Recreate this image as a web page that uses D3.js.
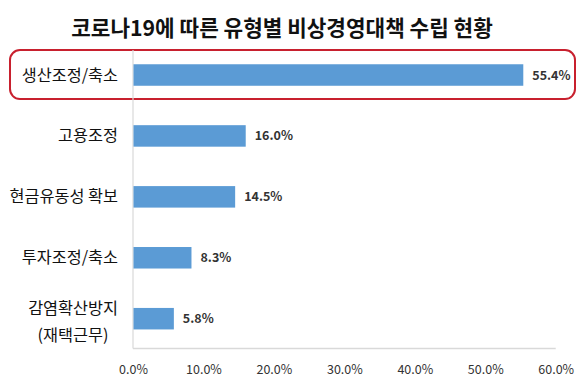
<!DOCTYPE html>
<html><head><meta charset="utf-8">
<script src="https://cdn.jsdelivr.net/npm/d3@7"></script>
<style>body{margin:0;background:#fff}svg{display:block}</style>
</head><body>
<svg id="c" width="580" height="380"></svg>
<script>
const title = "코로나19에 따른 유형별 비상경영대책 수립 현황";
const categories = ["생산조정/축소", "고용조정", "현금유동성 확보", "투자조정/축소", "감염확산방지\n(재택근무)"];
const values = [55.4, 16.0, 14.5, 8.3, 5.8];
const tickValues = [0, 10, 20, 30, 40, 50, 60];
const highlighted = ["생산조정/축소"];

const svg = d3.select("#c");
const font = "'Noto Sans CJK KR','Malgun Gothic',sans-serif";
const x = d3.scaleLinear().domain([0, 60]).range([133, 555.7]);
const y = d3.scaleBand().domain(categories).range([33.8, 359.9]).paddingInner(0.647).paddingOuter(0.5);

svg.append("text").attr("x", 282).attr("y", 35.5).attr("text-anchor", "middle")
  .attr("font-family", font).attr("font-weight", "bold").attr("font-size", 21.3).attr("fill", "#111")
  .text(title);

// highlight box
highlighted.forEach(c => {
  const cy = y(c) + y.bandwidth() / 2;
  svg.append("rect").attr("x", 10).attr("y", cy - 25).attr("width", 565).attr("height", 49)
    .attr("rx", 10).attr("fill", "none").attr("stroke", "#c8202e").attr("stroke-width", 2);
});

// axes lines
svg.append("line").attr("x1", x(0)).attr("x2", x(0)).attr("y1", 50).attr("y2", 348.5)
  .attr("stroke", "#d9d9d9").attr("stroke-width", 1.2);
svg.append("line").attr("x1", x(0)).attr("x2", x(60)).attr("y1", 348.5).attr("y2", 348.5)
  .attr("stroke", "#d9d9d9").attr("stroke-width", 1.5);

const xAxis = d3.axisBottom(x).tickValues(tickValues).tickSize(0).tickPadding(0)
  .tickFormat(d => d.toFixed(1) + "%");
const gx = svg.append("g").attr("transform", "translate(0,349)").call(xAxis);
gx.select(".domain").remove();
gx.selectAll("text").attr("font-family", font).attr("font-size", 12.5).attr("fill", "#333").attr("dy", 25);

svg.selectAll("rect.bar").data(values).enter().append("rect").attr("class", "bar")
  .attr("x", x(0) + 0.5).attr("y", (d, i) => y(categories[i]))
  .attr("width", d => x(d) - x(0) - 0.5).attr("height", y.bandwidth()).attr("fill", "#5b9bd5");

svg.selectAll("text.val").data(values).enter().append("text").attr("class", "val")
  .attr("x", d => x(d) + 9).attr("y", (d, i) => y(categories[i]) + y.bandwidth() / 2 + 4.5)
  .attr("font-family", font).attr("font-weight", "bold").attr("font-size", 12.5).attr("fill", "#333")
  .text(d => d.toFixed(1) + "%");

const rightEdge = 118;
categories.forEach(c => {
  const lines = c.split("\n");
  const cy = y(c) + y.bandwidth() / 2;
  const lh = 27;
  const t = svg.append("text").attr("font-family", font)
    .attr("font-size", 16.3).attr("fill", "#111");
  if (lines.length === 1) {
    t.attr("text-anchor", "end").attr("x", rightEdge).attr("y", cy + 5.5).text(c);
  } else {
    t.attr("text-anchor", "middle");
    const spans = lines.map((l, k) => t.append("tspan")
      .attr("y", cy + 3 + 5.5 + (k - (lines.length - 1) / 2) * lh).text(l));
    const w = d3.max(spans, s => s.node().getComputedTextLength());
    spans.forEach(s => s.attr("x", rightEdge - w / 2));
  }
});
</script>
</body></html>
